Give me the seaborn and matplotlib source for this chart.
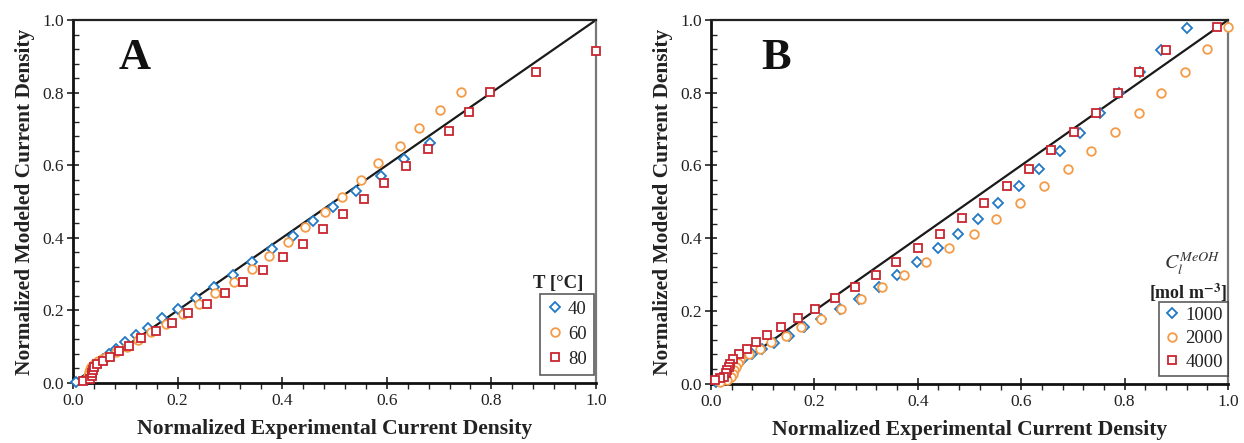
import numpy as np
import pandas as pd
import matplotlib
matplotlib.use("Agg")
import matplotlib.pyplot as plt
import seaborn as sns
from matplotlib.ticker import MultipleLocator, FormatStrFormatter
from matplotlib.lines import Line2D

# ---------------- data: panel A (temperature) ----------------
a40_x = [0.006, 0.045, 0.057, 0.069, 0.083, 0.100, 0.120, 0.143, 0.171, 0.200, 0.235, 0.270,
         0.305, 0.342, 0.380, 0.420, 0.459, 0.498, 0.542, 0.588, 0.633, 0.683]
a40_y = [0.002, 0.052, 0.066, 0.079, 0.094, 0.113, 0.132, 0.152, 0.178, 0.204, 0.234, 0.264,
         0.298, 0.332, 0.368, 0.406, 0.445, 0.486, 0.529, 0.571, 0.616, 0.662]

a60_x = [0.028, 0.030, 0.032, 0.035, 0.040, 0.047, 0.055, 0.064, 0.083, 0.103, 0.125, 0.149,
         0.177, 0.211, 0.240, 0.272, 0.307, 0.342, 0.375, 0.411, 0.444, 0.481, 0.514, 0.550,
         0.584, 0.625, 0.662, 0.702, 0.742]
a60_y = [0.020, 0.030, 0.038, 0.045, 0.052, 0.060, 0.066, 0.072, 0.086, 0.100, 0.118, 0.141,
         0.163, 0.190, 0.217, 0.247, 0.279, 0.313, 0.351, 0.389, 0.430, 0.471, 0.513, 0.559,
         0.605, 0.653, 0.702, 0.751, 0.802]

a80_x = [0.020, 0.033, 0.036, 0.037, 0.038, 0.040, 0.045, 0.057, 0.071, 0.087, 0.107, 0.130,
         0.159, 0.189, 0.220, 0.256, 0.291, 0.326, 0.364, 0.402, 0.440, 0.478, 0.516, 0.556,
         0.595, 0.637, 0.679, 0.718, 0.758, 0.797, 0.885, 1.000]
a80_y = [0.006, 0.012, 0.020, 0.028, 0.036, 0.044, 0.052, 0.061, 0.073, 0.088, 0.103, 0.123,
         0.143, 0.166, 0.192, 0.218, 0.247, 0.278, 0.312, 0.347, 0.383, 0.423, 0.465, 0.506,
         0.552, 0.597, 0.645, 0.695, 0.746, 0.801, 0.858, 0.915]

# ---------------- data: panel B (methanol concentration) ----------------
b1000_x = [0.920, 0.871, 0.830, 0.789, 0.753, 0.714, 0.675, 0.635, 0.596, 0.556, 0.517, 0.478,
           0.440, 0.399, 0.360, 0.324, 0.286, 0.250, 0.213, 0.180, 0.150, 0.122, 0.098, 0.079,
           0.061, 0.050, 0.044, 0.040, 0.036, 0.030, 0.020, 0.010]
b1000_y = [0.978, 0.917, 0.858, 0.798, 0.744, 0.690, 0.639, 0.591, 0.542, 0.497, 0.453, 0.411,
           0.372, 0.333, 0.298, 0.265, 0.233, 0.206, 0.177, 0.156, 0.131, 0.112, 0.094, 0.080,
           0.067, 0.055, 0.045, 0.035, 0.026, 0.018, 0.010, 0.005]

b2000_x = [1.000, 0.960, 0.916, 0.871, 0.827, 0.782, 0.735, 0.691, 0.644, 0.598, 0.551, 0.508,
           0.460, 0.416, 0.373, 0.330, 0.291, 0.251, 0.213, 0.175, 0.145, 0.116, 0.095, 0.074,
           0.057, 0.052, 0.048, 0.045, 0.042, 0.038, 0.030, 0.018]
b2000_y = [0.980, 0.919, 0.858, 0.799, 0.745, 0.691, 0.640, 0.591, 0.542, 0.497, 0.453, 0.411,
           0.372, 0.333, 0.298, 0.265, 0.233, 0.205, 0.177, 0.156, 0.131, 0.113, 0.095, 0.080,
           0.067, 0.056, 0.046, 0.036, 0.026, 0.017, 0.010, 0.005]

b4000_x = [0.978, 0.880, 0.828, 0.787, 0.745, 0.702, 0.658, 0.615, 0.572, 0.529, 0.486, 0.443,
           0.401, 0.358, 0.319, 0.279, 0.239, 0.201, 0.169, 0.135, 0.108, 0.087, 0.069, 0.055,
           0.043, 0.037, 0.034, 0.031, 0.029, 0.025, 0.017, 0.008]
b4000_y = [0.980, 0.917, 0.858, 0.798, 0.744, 0.692, 0.641, 0.591, 0.543, 0.497, 0.454, 0.412,
           0.373, 0.334, 0.299, 0.266, 0.234, 0.206, 0.179, 0.156, 0.133, 0.113, 0.095, 0.080,
           0.067, 0.055, 0.046, 0.037, 0.028, 0.019, 0.014, 0.010]

parity = [0.0, 1.0]
labels_A = ["40", "60", "80"]
labels_B = ["1000", "2000", "4000"]

# ---------------- style ----------------
sns.set_theme(style="white")
plt.rcParams["font.family"] = ["Liberation Serif", "DejaVu Serif"]
plt.rcParams["mathtext.fontset"] = "stix"

BLUE = "#2178c4"
ORANGE = "#f59a45"
RED = "#c9252f"
styles = [dict(marker="D", ms=4.8, color=BLUE),
          dict(marker="o", ms=6.2, color=ORANGE),
          dict(marker="s", ms=5.6, color=RED)]

fig = plt.figure(figsize=(12.44, 4.43), dpi=100)
axA = fig.add_axes([73 / 1244, 1 - 383 / 443, (596 - 73) / 1244, (383 - 20) / 443])
axB = fig.add_axes([711 / 1244, 1 - 383.5 / 443, (1228 - 711) / 1244, (383.5 - 20) / 443])


def draw_panel(ax, series, labels):
    sns.lineplot(x=parity, y=parity, ax=ax, color="#1a1a1a", lw=1.6, estimator=None,
                 sort=False, zorder=1)
    for (xs, ys), lab, st in zip(series, labels, styles):
        df = pd.DataFrame({"x": xs, "y": ys})
        sns.lineplot(data=df, x="x", y="y", ax=ax, estimator=None, sort=False,
                     linestyle="", marker=st["marker"], markersize=st["ms"],
                     markerfacecolor="white", markeredgecolor=st["color"],
                     markeredgewidth=1.3, color=st["color"], label=lab,
                     clip_on=False, zorder=3)
    ax.set_xlim(0, 1)
    ax.set_ylim(0, 1)
    ax.xaxis.set_major_locator(MultipleLocator(0.2))
    ax.yaxis.set_major_locator(MultipleLocator(0.2))
    ax.xaxis.set_minor_locator(MultipleLocator(0.04))
    ax.yaxis.set_minor_locator(MultipleLocator(0.04))
    ax.xaxis.set_major_formatter(FormatStrFormatter("%.1f"))
    ax.yaxis.set_major_formatter(FormatStrFormatter("%.1f"))
    ax.tick_params(axis="y", which="major", direction="inout", length=9, width=1.2,
                   labelsize=12.5, left=True, pad=2)
    ax.tick_params(axis="y", which="minor", direction="in", length=4, width=1.0, left=True)
    ax.tick_params(axis="x", which="major", direction="inout", length=9, width=1.2,
                   labelsize=12.5, bottom=True, pad=3)
    ax.tick_params(axis="x", which="minor", direction="out", length=4, width=1.0, bottom=True)
    ax.tick_params(colors="#222222")
    for s in ["left", "bottom"]:
        ax.spines[s].set_color("#111111")
        ax.spines[s].set_linewidth(2.0)
    ax.spines["top"].set_color("#222222")
    ax.spines["top"].set_linewidth(1.6)
    ax.spines["right"].set_color("#777777")
    ax.spines["right"].set_linewidth(1.6)
    ax.set_xlabel("Normalized Experimental Current Density", fontsize=15.6, fontweight="bold",
                  color="#222222", labelpad=7)
    ax.set_ylabel("Normalized Modeled Current Density", fontsize=15.4, fontweight="bold",
                  color="#222222", labelpad=5)
    ax.grid(False)


draw_panel(axA, [(a40_x, a40_y), (a60_x, a60_y), (a80_x, a80_y)], labels_A)
draw_panel(axB, [(b1000_x, b1000_y), (b2000_x, b2000_y), (b4000_x, b4000_y)], labels_B)

# panel letters
axA.text(0.118, 0.895, "A", transform=axA.transAxes, fontsize=32, fontweight="bold",
         ha="center", va="center", color="#111111")
axB.text(0.125, 0.895, "B", transform=axB.transAxes, fontsize=32, fontweight="bold",
         ha="center", va="center", color="#111111")


def make_legend(ax, labels, anchor, spacing, bpad):
    handles = [Line2D([], [], linestyle="", marker=st["marker"], markersize=st["ms"],
                      markerfacecolor="white", markeredgecolor=st["color"],
                      markeredgewidth=1.3) for st in styles]
    leg = ax.legend(handles, labels, loc="lower right", bbox_to_anchor=anchor,
                    borderaxespad=0, frameon=True, fancybox=False, fontsize=13.5,
                    handlelength=0.8, handletextpad=0.3, labelspacing=spacing,
                    borderpad=bpad, edgecolor="#333333")
    leg.get_frame().set_linewidth(1.2)
    for t in leg.get_texts():
        t.set_color("#222222")
    return leg


make_legend(axA, labels_A, (0.996, 0.022), 0.42, 0.38)
axA.text(0.927, 0.275, "T [°C]", transform=axA.transAxes, fontsize=13.5, fontweight="bold",
         ha="center", va="center", color="#222222")

make_legend(axB, labels_B, (1.0, 0.02), 0.34, 0.28)
axB.text(0.93, 0.33, r"$C_l^{MeOH}$", transform=axB.transAxes, fontsize=14.5,
         ha="center", va="center", color="#333333")
axB.text(0.922, 0.25, r"[mol m$^{\mathbf{-3}}$]", transform=axB.transAxes, fontsize=13,
         fontweight="bold", ha="center", va="center", color="#222222")

fig.savefig("out.png", dpi=100)
